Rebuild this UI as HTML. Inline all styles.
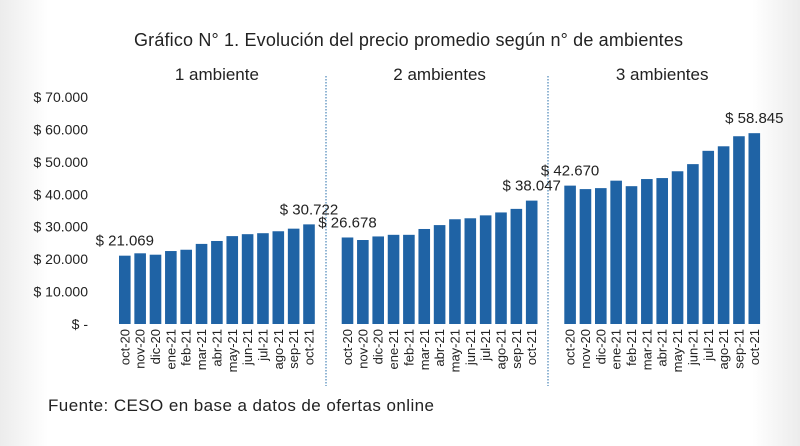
<!DOCTYPE html>
<html><head><meta charset="utf-8"><style>
body{margin:0;background:#fff}
svg{display:block;font-family:"Liberation Sans",sans-serif}
</style></head><body>
<svg width="800" height="446" viewBox="0 0 800 446">
<defs>
<linearGradient id="lg" x1="0" x2="1"><stop offset="0" stop-color="#ececec"/><stop offset="0.06" stop-color="#fff"/><stop offset="0.94" stop-color="#fff"/><stop offset="1" stop-color="#ececec"/></linearGradient>
</defs>
<rect width="800" height="446" fill="url(#lg)"/>
<text x="134" y="46" font-size="18" textLength="549" fill="#222">Gráfico N° 1. Evolución del precio promedio según n° de ambientes</text>
<text x="48" y="411" font-size="17" textLength="386" fill="#222">Fuente: CESO en base a datos de ofertas online</text>
<g id="chart"></g>
</svg>
<script>
const months=["oct-20","nov-20","dic-20","ene-21","feb-21","mar-21","abr-21","may-21","jun-21","jul-21","ago-21","sep-21","oct-21"];
const groups=["1 ambiente","2 ambientes","3 ambientes"];
const amb1=[21069,21800,21370,22500,22900,24700,25600,27100,27700,28000,28600,29400,30722];
const amb2=[26678,25900,27000,27500,27500,29300,30500,32300,32600,33500,34400,35500,38047];
const amb3=[42670,41600,41900,44200,42500,44700,45000,47100,49300,53400,54800,57900,58845];
const yTicks=[0,10000,20000,30000,40000,50000,60000,70000];
const tickLabels=["$ -","$ 10.000","$ 20.000","$ 30.000","$ 40.000","$ 50.000","$ 60.000","$ 70.000"];
const labelIdx=[[0,12],[0,12],[0,12]];
const series=[amb1,amb2,amb3];
const NS="http://www.w3.org/2000/svg";
const g=document.getElementById("chart");
const y0=324,yTop=97,yMax=70000;
function y(v){return y0-(v/yMax)*(y0-yTop);}
const groupStart=[119,341.7,564.3],pitch=15.35,bw=11.6;
function x(gi,i){return groupStart[gi]+i*pitch;}
function mk(t,a){const e=document.createElementNS(NS,t);for(const k in a)e.setAttribute(k,a[k]);g.appendChild(e);return e;}
function fmt(v){return "$ "+Math.round(v).toString().replace(/\B(?=(\d{3})+(?!\d))/g,".");}
yTicks.forEach((v,i)=>{
 const t=mk("text",{x:88,y:y(v)+5,"font-size":14,"text-anchor":"end",fill:"#222"});
 t.textContent=tickLabels[i];
 
 
});
[326,548].forEach(px=>{
 const l=mk("line",{x1:px,x2:px,y1:76,y2:386,stroke:"#4a86b8","stroke-width":1.2,"stroke-dasharray":"1.5,1.5"});
 
 
});
series.forEach((s,gi)=>{
 const h=mk("text",{x:(x(gi,0)+x(gi,12)+bw)/2,y:80,"font-size":17,"text-anchor":"middle",fill:"#222"});
 h.textContent=groups[gi];
 
 
 s.forEach((v,i)=>{
  const r=mk("rect",{x:x(gi,i),y:y(v),width:bw,height:y0-y(v),fill:"#1f63a5"});
  
  
  const cx=x(gi,i)+bw/2+4.5;
  const t=mk("text",{x:cx,y:329,"font-size":13,"text-anchor":"end",fill:"#222",transform:`rotate(-90 ${cx} 329)`});
  t.textContent=months[i];
  
  
 });
 labelIdx[gi].forEach(i=>{
  const t=mk("text",{x:x(gi,i)+bw/2,y:y(s[i])-10,"font-size":15,"text-anchor":"middle",fill:"#222"});
  t.textContent=fmt(s[i]);
  
  
 });
});
</script>
</body></html>
